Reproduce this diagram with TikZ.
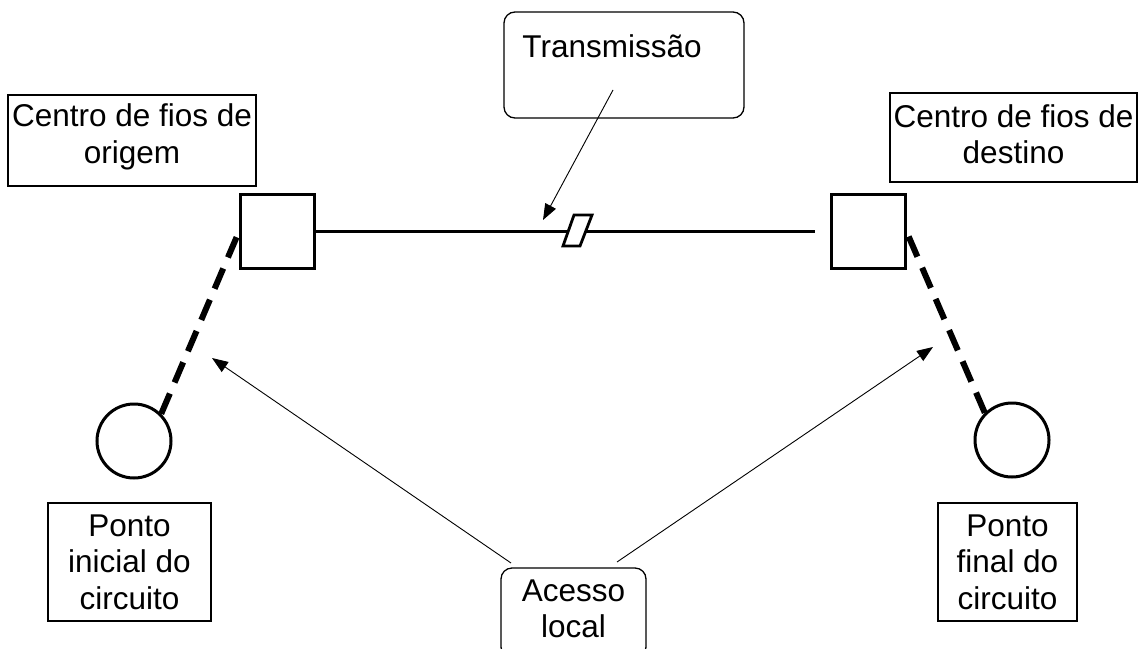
\documentclass[tikz,border=0pt]{standalone}
\usepackage{fontspec}
\setmainfont{Liberation Sans}
\usetikzlibrary{arrows.meta}
\begin{document}
\begin{tikzpicture}[x=1pt,y=-1pt,
  lbl/.style={font=\fontsize{31.5}{36.5}\selectfont, align=center, inner sep=0pt},
  labelbox/.style={draw, line width=1.8pt, rectangle, inner sep=0pt},
  callout/.style={draw, line width=1.3pt, rectangle, rounded corners=11pt, inner sep=0pt},
  hub/.style={draw, line width=3pt, rectangle, minimum size=74pt, inner sep=0pt},
  endpt/.style={draw, line width=3pt, circle, minimum size=74pt, inner sep=0pt},
  access/.style={line width=6pt, dash pattern=on 22pt off 12pt},
  pointer/.style={line width=0.9pt, -{Triangle[length=16pt,width=12pt]}}
]
\useasboundingbox (0,0) rectangle (1145,648);

% label boxes
\node[labelbox, minimum width=248pt, minimum height=91pt] (lorig) at (132,140.5) {};
\node[lbl] (torig) at (132,137) {Centro de fios de\\origem};
\node[labelbox, minimum width=247pt, minimum height=89pt] (ldest) at (1013.5,137.5) {};
\node[lbl] (tdest) at (1013.5,134) {Centro de fios de\\destino};
\node[labelbox, minimum width=163pt, minimum height=118pt] (lini) at (129.5,562) {};
\node[lbl] (tini) at (129.5,562) {Ponto\\inicial do\\circuito};
\node[labelbox, minimum width=139pt, minimum height=118pt] (lfin) at (1007.5,562) {};
\node[lbl] (tfin) at (1007.5,562) {Ponto\\final do\\circuito};

% rounded callouts
\node[callout, minimum width=240pt, minimum height=106pt] (trans) at (624,65) {};
\node[lbl] (ttrans) at (612,46) {Transmissão};
\node[callout, minimum width=145pt, minimum height=90pt] (acc) at (573.5,613) {};
\node[lbl] (tacc) at (573.5,609) {Acesso\\local};

% wire centres and circuit end points
\node[hub] (sq1) at (277.5,231.5) {};
\node[hub] (sq2) at (868,231.5) {};
\node[endpt] (c1) at (134,441) {};
\node[endpt] (c2) at (1012,440) {};

% trunk between the wire centres
\coordinate (trunkend) at (815,231.5);
\draw[line width=2.5pt] (sq1.east) -- (trunkend);
\filldraw[fill=white, line width=2.8pt] (574,215) -- (592,215) -- (580,246) -- (563,246) -- cycle;

% local access loops
\draw[access] (c1.45) -- (sq1.west);
\draw[access] (c2.135) -- (sq2.east);

% pointers
\coordinate (tfrom) at (613,90);
\coordinate (tto) at (543,220);
\draw[pointer] (tfrom) -- (tto);
\coordinate (afromL) at (511,563);
\coordinate (atoL) at (212,358);
\draw[pointer] (afromL) -- (atoL);
\coordinate (afromR) at (617,562);
\coordinate (atoR) at (933,347);
\draw[pointer] (afromR) -- (atoR);
\end{tikzpicture}
\end{document}
